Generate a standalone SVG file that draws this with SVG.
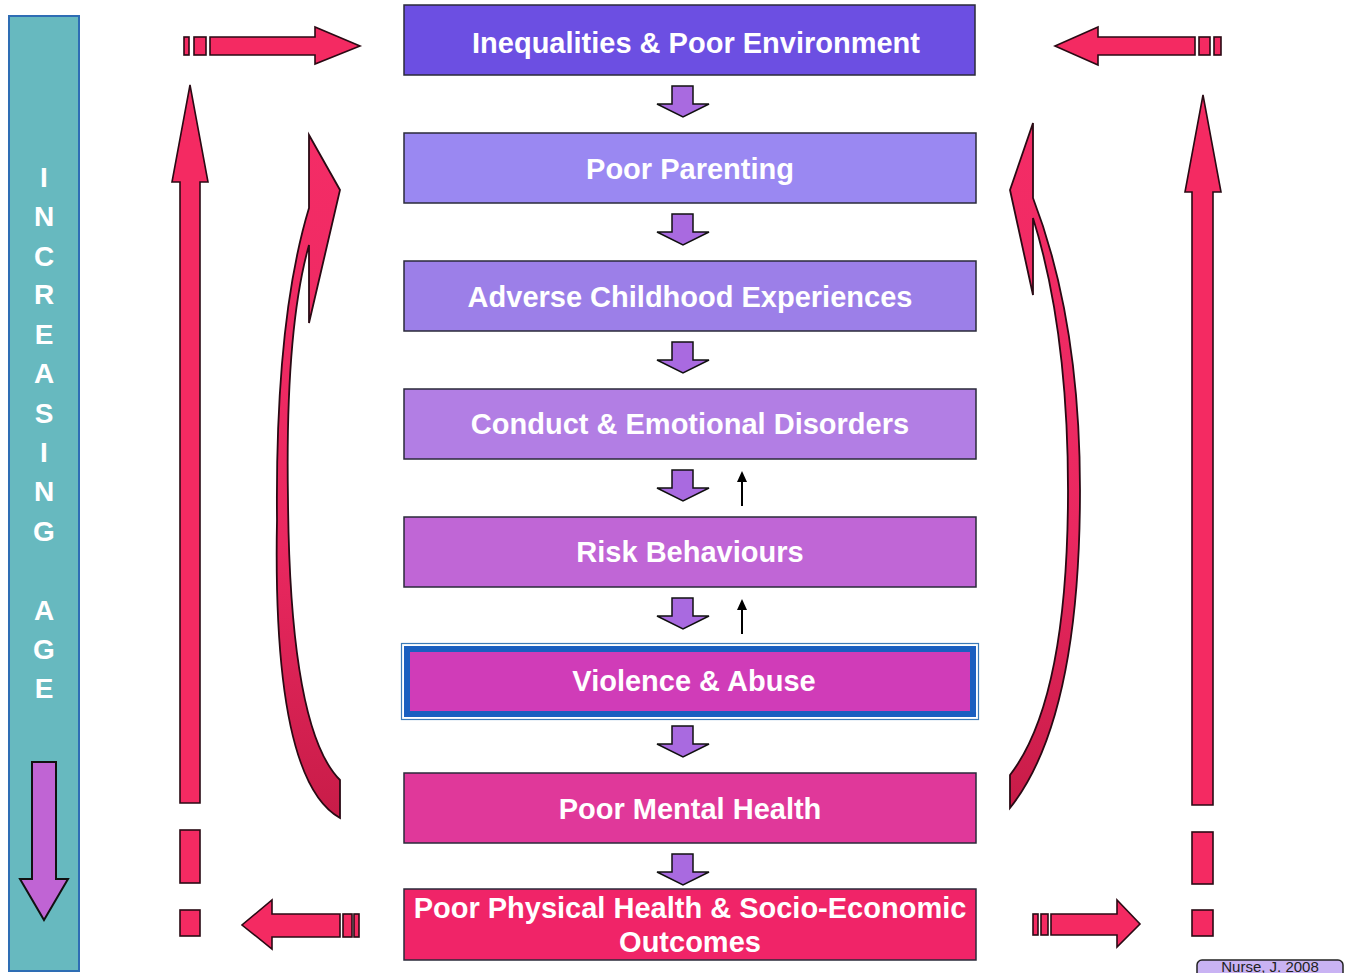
<svg xmlns="http://www.w3.org/2000/svg" width="1345" height="973" viewBox="0 0 1345 973">
<defs>
<style>
.box{stroke:#2a2a3a;stroke-width:1.5}
.t{font-family:"Liberation Sans",Arial,sans-serif;font-weight:bold;font-size:29px;fill:#fff;text-anchor:middle}
.pk{fill:#f42a62;stroke:#2a0a14;stroke-width:1.6;stroke-linejoin:miter}
.dn{fill:#a96ae0;stroke:#111;stroke-width:1.5}
.lt{font-family:"Liberation Sans",Arial,sans-serif;font-weight:bold;font-size:28px;fill:#fff;text-anchor:middle}
</style>
<linearGradient id="cg" x1="0" y1="0" x2="0" y2="1">
<stop offset="0" stop-color="#f42c66"/>
<stop offset="0.6" stop-color="#ea2860"/>
<stop offset="1" stop-color="#c81c48"/>
</linearGradient>
<path id="sd" d="M-11,0 H10 V18 H26 L0,31 L-26,18 H-11 Z"/>
</defs>
<rect width="1345" height="973" fill="#fff"/>

<g id="age-bar">
<rect x="9" y="16" width="70" height="955" fill="#67b9bf" stroke="#2e6db4" stroke-width="2"/>
<g class="lt">
<text x="44" y="187">I</text>
<text x="44" y="226">N</text>
<text x="44" y="266">C</text>
<text x="44" y="304">R</text>
<text x="44" y="344">E</text>
<text x="44" y="383">A</text>
<text x="44" y="423">S</text>
<text x="44" y="462">I</text>
<text x="44" y="501">N</text>
<text x="44" y="541">G</text>
<text x="44" y="620">A</text>
<text x="44" y="659">G</text>
<text x="44" y="698">E</text>
</g>
<polygon points="32,762 56,762 56,879 68,879 44,920 20,879 32,879" fill="#c064d4" stroke="#111" stroke-width="2"/>
</g>

<g id="n1"><rect class="box" x="404" y="5" width="571" height="70" fill="#6c4fe2"/><text class="t" x="696" y="53">Inequalities &amp; Poor Environment</text></g>
<g id="n2"><rect class="box" x="404" y="133" width="572" height="70" fill="#9a88f2"/><text class="t" x="690" y="179">Poor Parenting</text></g>
<g id="n3"><rect class="box" x="404" y="261" width="572" height="70" fill="#9c7fe8"/><text class="t" x="690" y="307">Adverse Childhood Experiences</text></g>
<g id="n4"><rect class="box" x="404" y="389" width="572" height="70" fill="#b27ee4"/><text class="t" x="690" y="434">Conduct &amp; Emotional Disorders</text></g>
<g id="n5"><rect class="box" x="404" y="517" width="572" height="70" fill="#c066d6"/><text class="t" x="690" y="562">Risk Behaviours</text></g>
<g id="n6">
<rect x="401.5" y="643.5" width="577" height="76" fill="#fff" stroke="#3a7ab8" stroke-width="1.2"/>
<rect x="407" y="649" width="566" height="65" fill="#d03cb8" stroke="#1a5fc0" stroke-width="6"/>
<text class="t" x="694" y="691">Violence &amp; Abuse</text></g>
<g id="n7"><rect class="box" x="404" y="773" width="572" height="70" fill="#e0389a"/><text class="t" x="690" y="819">Poor Mental Health</text></g>
<g id="n8"><rect class="box" x="404" y="889" width="572" height="71" fill="#f02468"/><text class="t" x="690" y="918">Poor Physical Health &amp; Socio-Economic</text><text class="t" x="690" y="952">Outcomes</text></g>

<g id="connectors">
<use href="#sd" class="dn" x="683" y="86"/>
<use href="#sd" class="dn" x="683" y="214"/>
<use href="#sd" class="dn" x="683" y="342"/>
<use href="#sd" class="dn" x="683" y="470"/>
<use href="#sd" class="dn" x="683" y="598"/>
<use href="#sd" class="dn" x="683" y="726"/>
<use href="#sd" class="dn" x="683" y="854"/>
<g stroke="#000" stroke-width="2"><line x1="742" y1="506" x2="742" y2="480"/><line x1="742" y1="634" x2="742" y2="608"/></g>
<polygon points="742,471 737,482 747,482" fill="#000"/>
<polygon points="742,599 737,610 747,610" fill="#000"/>

<polygon class="pk" points="210,37 315,37 315,27 360,46 315,64 315,55 210,55"/>
<rect class="pk" x="184" y="37" width="5" height="18"/>
<rect class="pk" x="194" y="37" width="12" height="18"/>
<polygon class="pk" points="1195,37 1098,37 1098,27 1055,46 1098,65 1098,55 1195,55"/>
<rect class="pk" x="1199" y="37" width="11" height="18"/>
<rect class="pk" x="1214" y="37" width="7" height="18"/>
<polygon class="pk" points="340,914 272,914 272,900 242,925 272,949 272,937 340,937"/>
<rect class="pk" x="343" y="914" width="9" height="23"/>
<rect class="pk" x="354" y="914" width="5" height="23"/>
<polygon class="pk" points="1051,914 1117,914 1117,900 1140,924 1117,947 1117,935 1051,935"/>
<rect class="pk" x="1033" y="914" width="5" height="21"/>
<rect class="pk" x="1041" y="914" width="7" height="21"/>

<polygon class="pk" points="190,85 208,182 200,182 200,803 180,803 180,182 172,182"/>
<rect class="pk" x="180" y="830" width="20" height="53"/>
<rect class="pk" x="180" y="910" width="20" height="26"/>
<polygon class="pk" points="1203,95 1221,192 1213,192 1213,805 1192,805 1192,192 1185,192"/>
<rect class="pk" x="1192" y="832" width="21" height="52"/>
<rect class="pk" x="1192" y="910" width="21" height="26"/>

<path d="M309,135 L340,190 L309,323 L309,245 Q285,330 288,500 Q290,730 340,780 L340,818 Q272,780 277,520 Q275,320 309,208 Z" fill="url(#cg)" stroke="#2a0a14" stroke-width="1.8" stroke-linejoin="miter"/>
<path d="M1033,123 L1033,198 Q1080,320 1080,490 Q1080,720 1010,808 L1010,775 Q1068,700 1068,490 Q1068,330 1033,218 L1033,295 L1010,190 Z" fill="url(#cg)" stroke="#2a0a14" stroke-width="1.8" stroke-linejoin="miter"/>
</g>

<g id="credit">
<rect x="1197" y="960" width="146" height="30" rx="5" fill="#c9b3f3" stroke="#222" stroke-width="1.5"/>
<text x="1270" y="972" font-family="Liberation Sans, Arial, sans-serif" font-size="15" fill="#222" text-anchor="middle">Nurse, J. 2008</text>
</g>
</svg>
